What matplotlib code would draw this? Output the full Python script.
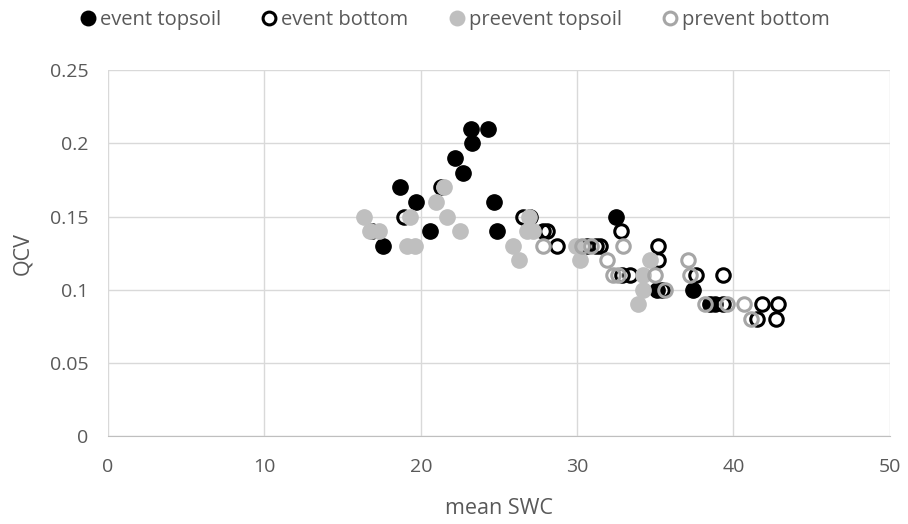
import matplotlib.pyplot as plt

# mean SWC / QCV per series
event_top_x = [17.6, 18.7, 19.7, 20.6, 22.2, 22.7, 23.2, 23.25, 24.3, 24.7, 24.9, 32.5, 35.1, 37.4, 38.5]
event_top_y = [0.13, 0.17, 0.16, 0.14, 0.19, 0.18, 0.21, 0.20, 0.21, 0.16, 0.14, 0.15, 0.10, 0.10, 0.09]

event_bot_x = [16.9, 18.95, 21.3, 26.55, 27.0, 27.8, 28.1, 28.7, 30.6, 31.2, 31.45, 32.8, 32.85, 33.4,
               35.2, 35.2, 35.4, 37.6, 39.3, 38.8, 39.3, 41.8, 42.85, 41.5, 42.75]
event_bot_y = [0.14, 0.15, 0.17, 0.15, 0.15, 0.14, 0.14, 0.13, 0.13, 0.13, 0.13, 0.14, 0.11, 0.11,
               0.13, 0.12, 0.10, 0.11, 0.11, 0.09, 0.09, 0.09, 0.09, 0.08, 0.08]

pre_top_x = [16.4, 16.75, 17.3, 19.3, 19.1, 19.6, 21.0, 21.5, 21.65, 22.5, 25.9, 26.3, 26.9, 26.8,
             27.2, 29.9, 30.2, 34.65, 34.2, 34.2, 33.9]
pre_top_y = [0.15, 0.14, 0.14, 0.15, 0.13, 0.13, 0.16, 0.17, 0.15, 0.14, 0.13, 0.12, 0.15, 0.14,
             0.14, 0.13, 0.12, 0.12, 0.11, 0.10, 0.09]

pre_bot_x = [27.8, 30.3, 30.9, 31.9, 32.95, 32.3, 32.6, 35.0, 35.6, 37.1, 37.2, 38.2, 39.6, 40.7, 41.15]
pre_bot_y = [0.13, 0.13, 0.13, 0.12, 0.13, 0.11, 0.11, 0.11, 0.10, 0.12, 0.11, 0.09, 0.09, 0.09, 0.08]

plt.rcParams['font.family'] = ['Open Sans', 'DejaVu Sans']
txt = '#595959'

fig = plt.figure(figsize=(9.08, 5.24), dpi=100)
ax = fig.add_axes([0.119, 0.168, 0.861, 0.698])

ms = 11
ax.plot(event_top_x, event_top_y, 'o', ms=ms, color='black', mec='black',
        label='event topsoil', zorder=3)
ax.plot(event_bot_x, event_bot_y, 'o', ms=ms - 1.3, mfc='none', mec='black', mew=2.2,
        label='event bottom', zorder=3)
ax.plot(pre_top_x, pre_top_y, 'o', ms=ms, color='#bfbfbf', mec='#bfbfbf',
        label='preevent topsoil', zorder=3)
ax.plot(pre_bot_x, pre_bot_y, 'o', ms=ms - 1.3, mfc='none', mec='#a6a6a6', mew=2.2,
        label='prevent bottom', zorder=3)

ax.set_xlim(0, 50)
ax.set_ylim(0, 0.25)
ax.set_xticks([0, 10, 20, 30, 40, 50])
ax.set_yticks([0, 0.05, 0.1, 0.15, 0.2, 0.25])
ax.set_yticklabels(['0', '0.05', '0.1', '0.15', '0.2', '0.25'])
ax.grid(True, color='#d9d9d9', linewidth=1)
ax.set_axisbelow(True)
for s in ['top', 'right', 'left']:
    ax.spines[s].set_visible(False)
ax.spines['bottom'].set_color('#bfbfbf')
ax.tick_params(length=0, labelsize=14, colors=txt)
ax.tick_params(axis='x', pad=16)
ax.tick_params(axis='y', pad=14)

ax.set_xlabel('mean SWC', fontsize=15.5, color=txt, labelpad=16)
ax.set_ylabel('QCV', fontsize=15.5, color=txt, labelpad=12)

fig.legend(loc='upper center', bbox_to_anchor=(0.5, 1.015), ncol=4, frameon=False,
           fontsize=14.5, labelcolor=txt, handletextpad=0.1, columnspacing=1.9,
           markerscale=0.95, handlelength=1.0)

fig.savefig('out.png', dpi=100)
